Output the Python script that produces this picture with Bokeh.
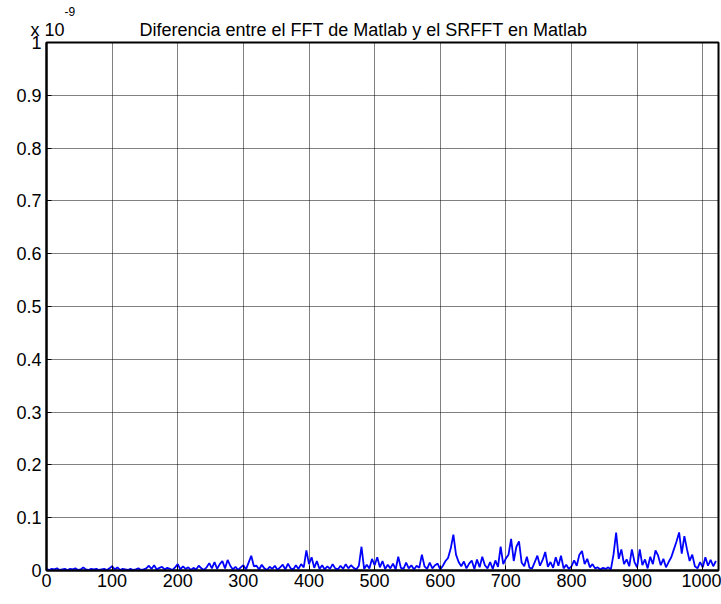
from bokeh.plotting import figure
from bokeh.models import Range1d, FixedTicker, Title
from bokeh.embed import file_html
from bokeh.resources import INLINE
import numpy as np

# sample index (every 4th of 1024 samples)
sample_index = list(range(0, 1024, 4))

# difference |FFT - SRFFT|, in units of 1e-12 (i.e. thousandths of the 1e-9 axis unit)
diff_milli = [
    3, 1, 3, 2, 4, 1, 2, 3, 1, 3, 2, 4, 1, 2, 6, 2,
    1, 3, 2, 3, 1, 2, 3, 1, 4, 8, 2, 6, 1, 3, 2, 1,
    3, 1, 2, 4, 1, 2, 4, 9, 3, 10, 2, 5, 7, 2, 5, 3,
    1, 6, 12, 2, 8, 3, 6, 1, 5, 2, 9, 4, 1, 6, 14, 4,
    16, 3, 12, 18, 4, 20, 9, 2, 7, 1, 6, 10, 2, 15, 28, 8,
    9, 2, 11, 4, 1, 7, 3, 9, 1, 6, 11, 2, 13, 4, 2, 10,
    3, 12, 6, 38, 12, 25, 5, 18, 3, 10, 2, 8, 3, 12, 4, 2,
    9, 3, 12, 4, 10, 5, 2, 9, 45, 3, 11, 4, 22, 10, 25, 6,
    18, 3, 11, 4, 13, 2, 26, 5, 3, 15, 4, 10, 2, 9, 5, 30,
    8, 3, 15, 4, 10, 13, 2, 9, 18, 24, 42, 68, 30, 16, 8, 17,
    4, 13, 19, 3, 21, 6, 26, 10, 4, 16, 3, 19, 7, 45, 12, 23,
    30, 60, 18, 45, 55, 15, 8, 26, 5, 4, 16, 28, 9, 20, 35, 7,
    16, 5, 25, 9, 28, 4, 11, 3, 8, 19, 9, 30, 37, 12, 22, 6,
    12, 4, 6, 2, 5, 3, 6, 2, 30, 72, 22, 40, 12, 21, 8, 40,
    16, 6, 40, 10, 21, 4, 26, 12, 38, 28, 10, 22, 6, 16, 25, 40,
    55, 72, 32, 65, 40, 18, 30, 8, 4, 16, 6, 25, 9, 20, 8, 18,
]

x_ticks = [0, 100, 200, 300, 400, 500, 600, 700, 800, 900, 1000]
y_ticks = [0, 0.1, 0.2, 0.3, 0.4, 0.5, 0.6, 0.7, 0.8, 0.9, 1]
scale_base = "x 10"
scale_exp = "-9"
title_text = "Diferencia entre el FFT de Matlab y el SRFFT en Matlab"

y_vals = np.array(diff_milli) / 1000.0

FONT = "Liberation Sans"

p = figure(width=721, height=604, output_backend="svg", toolbar_location=None,
           title=None,
           x_range=Range1d(0, 1024), y_range=Range1d(0, 1),
           min_border_left=46, min_border_right=3, min_border_top=42, min_border_bottom=34)
p.background_fill_color = "white"
p.border_fill_color = "white"
p.outline_line_color = "black"
p.outline_line_width = 2
p.outline_line_alpha = 1

p.line(sample_index, y_vals, line_color="#0000ff", line_width=1.8)

for ax in (p.xaxis, p.yaxis):
    ax.axis_line_color = "black"
    ax.axis_line_width = 2
    ax.major_tick_in = 5
    ax.major_tick_out = 0
    ax.minor_tick_line_color = None
    ax.major_tick_line_color = "black"
    ax.major_label_text_font = FONT
    ax.major_label_text_font_size = "18px"
    ax.major_label_text_color = "black"

p.xaxis.ticker = FixedTicker(ticks=x_ticks)
p.yaxis.ticker = FixedTicker(ticks=y_ticks)
p.xaxis.major_label_overrides = {t: str(t) for t in x_ticks}
p.yaxis.major_label_overrides = {0: "0", 1: "1"}
p.xaxis.major_label_standoff = 3
p.yaxis.major_label_standoff = 5

p.xgrid.ticker = FixedTicker(ticks=x_ticks)
p.ygrid.ticker = FixedTicker(ticks=y_ticks)
p.grid.grid_line_color = "black"
p.grid.grid_line_dash = "1 1"
p.grid.grid_line_width = 1
p.grid.grid_line_alpha = 1

# row next to the frame: "x 10" multiplier and the title
main_row = Title(text=scale_base + "\u00a0" * 15 + title_text, align="left", offset=-16,
                 text_font=FONT, text_font_style="normal", text_font_size="18px",
                 text_color="black", standoff=5)
p.add_layout(main_row, "above")
# outer row: the exponent, raised above "x 10"
exp_row = Title(text=scale_exp, align="left", offset=18,
                text_font=FONT, text_font_style="normal", text_font_size="12px",
                text_color="black", standoff=0)
p.add_layout(exp_row, "above")

open("out.html", "w").write(file_html(p, INLINE))
